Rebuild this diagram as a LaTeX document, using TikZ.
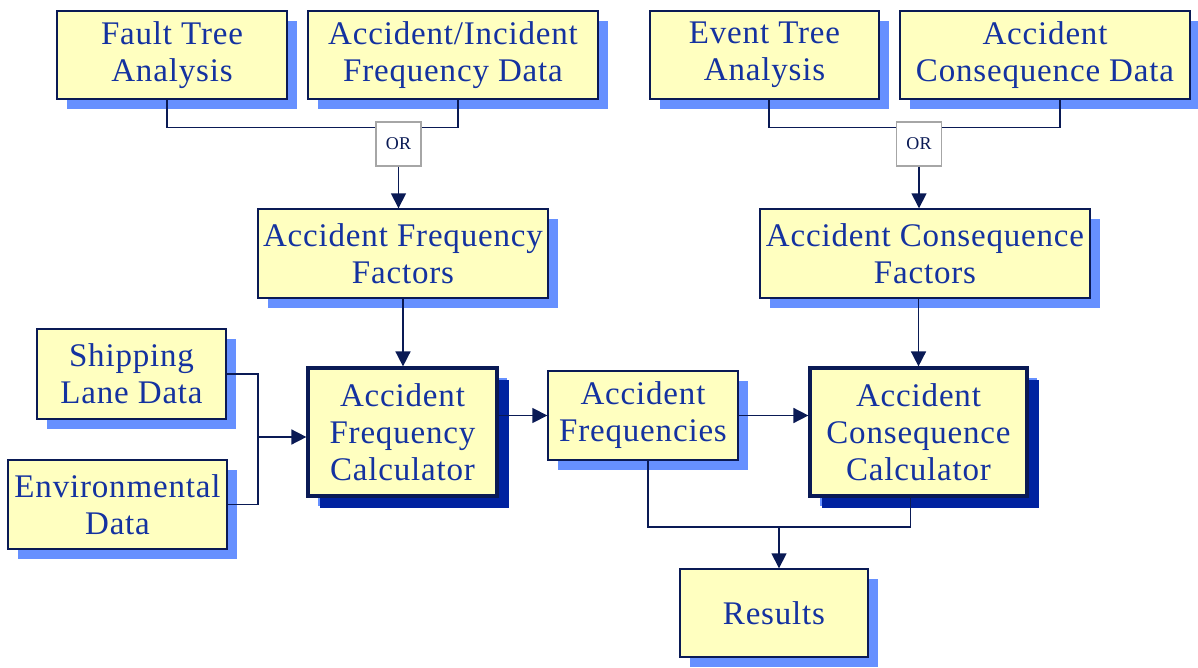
\documentclass[tikz,border=0pt]{standalone}
\usepackage{fontspec}
\usetikzlibrary{shapes, arrows.meta, positioning, shadows}
\newfontfamily\boxfont{Liberation Serif}[LetterSpace=2.5]
\definecolor{boxfill}{HTML}{FFFFC0}
\definecolor{boxtext}{HTML}{1432A0}
\definecolor{boxline}{HTML}{0A1A55}
\definecolor{lightshade}{HTML}{6690FF}
\definecolor{darkshade}{HTML}{0022A0}
\tikzstyle{block} = [draw=boxline, line width=0.7pt, fill=boxfill, rectangle, align=center,
  inner sep=0pt, text=boxtext, font=\boxfont\fontsize{16.5}{18.5}\selectfont,
  drop shadow={shadow xshift=5pt, shadow yshift=-5pt, fill=lightshade, opacity=1}]
\tikzstyle{calc} = [block, line width=1.6pt,
  drop shadow={shadow xshift=6pt, shadow yshift=-6pt, fill=darkshade, opacity=1}]
\tikzstyle{gate} = [draw=black!35, line width=0.6pt, fill=white, rectangle, inner sep=0pt,
  minimum width=22.5pt, minimum height=22pt, text=boxline, font=\boxfont\fontsize{9}{10}\selectfont]
\tikzstyle{line} = [draw=boxline, line width=0.8pt]

\begin{document}
\begin{tikzpicture}[x=0.5pt, y=-0.5pt, >={Triangle[length=7.5pt,width=7.5pt]}]
  \useasboundingbox (0,0) rectangle (1198,668);
  % inputs
  \node[block, minimum width=115pt, minimum height=44pt] (ft) at (172,55) {Fault Tree\\Analysis};
  \node[block, minimum width=145pt, minimum height=44pt] (aid) at (453,55) {Accident/Incident\\Frequency Data};
  \node[block, minimum width=114.5pt, minimum height=44pt] (et) at (764.5,55) {Event Tree\\Analysis};
  \node[block, minimum width=145pt, minimum height=44pt] (acd) at (1045,55) {Accident\\Consequence Data};
  \node[gate] (or1) at (398.5,144) {OR};
  \node[gate] (or2) at (919,144) {OR};
  % factors
  \node[block, minimum width=145pt, minimum height=44.5pt] (aff) at (403,253.5) {Accident Frequency\\Factors};
  \node[block, minimum width=165pt, minimum height=44.5pt] (acf) at (925,253.5) {Accident Consequence\\Factors};
  % calculators
  \node[block, minimum width=94.5pt, minimum height=45pt] (ship) at (131.5,374) {Shipping\\Lane Data};
  \node[block, minimum width=109.5pt, minimum height=44.5pt] (env) at (117.5,504.5) {Environmental\\Data};
  \node[calc, minimum width=94.5pt, minimum height=64pt] (afc) at (402.5,432) {Accident\\Frequency\\Calculator};
  \node[block, minimum width=95pt, minimum height=44.5pt] (freq) at (643,415.5) {Accident\\Frequencies};
  \node[calc, minimum width=108.5pt, minimum height=64pt] (acc) at (918.5,432) {Accident\\Consequence\\Calculator};
  \node[block, minimum width=94pt, minimum height=44pt] (res) at (774,613) {Results};

  \begin{scope}[line]
    \draw ([xshift=-2.5pt]ft.south) -- ++(0,28) coordinate (j1) -- (j1 -| or1.west);
    \draw ([xshift=2.5pt]aid.south) -- ++(0,28) coordinate (j2) -- (j2 -| or1.east);
    \draw ([xshift=2.25pt]et.south) -- ++(0,28) coordinate (j3) -- (j3 -| or2.west);
    \draw ([xshift=7.5pt]acd.south) -- ++(0,28) coordinate (j4) -- (j4 -| or2.east);
    \draw[->] (or1.south) -- (or1.south |- aff.north);
    \draw[->] (or2.south) -- (or2.south |- acf.north);
    \draw[->] (aff.south) -- (aff.south |- afc.north);
    \draw[->] (acf.south -| acc.north) -- (acc.north);
    \coordinate (jl) at (258,437);
    \draw (ship.east) -| (jl) |- (env.east);
    \draw[->] (jl) -- (jl -| afc.west);
    \draw[->] (freq.west -| afc.east) -- (freq.west);
    \draw[->] (freq.east) -- (freq.east -| acc.west);
    \coordinate (jr) at (779,527);
    \draw ([xshift=2.5pt]freq.south) |- (jr) -| ([xshift=-4pt]acc.south);
    \draw[->] (jr) -- (jr |- res.north);
  \end{scope}
\end{tikzpicture}
\end{document}
